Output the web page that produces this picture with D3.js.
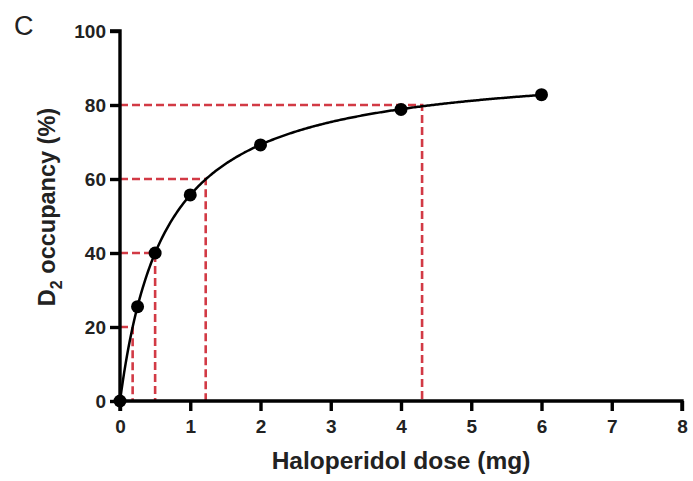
<!DOCTYPE html>
<html><head><meta charset="utf-8">
<script src="https://d3js.org/d3.v7.min.js"></script>
<style>body{margin:0;background:#fff}svg{display:block}</style>
</head><body>
<script>
const doses = [0, 0.25, 0.5, 1, 2, 4, 6];
const occupancy = [0, 25.5, 40, 55.7, 69.2, 78.8, 82.8];
const fitEmax = 91.6, fitED50 = 0.645;
const targetOcc = [20, 40, 60, 80];
const targetDose = [0.18, 0.5, 1.22, 4.3];
const xTicks = [0,1,2,3,4,5,6,7,8];
const yTicks = [0,20,40,60,80,100];

const W = 693, H = 481;
const svg = d3.select("body").append("svg").attr("width", W).attr("height", H);
const x = d3.scaleLinear().domain([0, 8]).range([120, 682]);
const y = d3.scaleLinear().domain([0, 100]).range([401, 31]);

const red = "#d23a45";
const g = svg.append("g");
targetOcc.forEach((o, i) => {
  const d = targetDose[i];
  g.append("path")
    .attr("d", `M${x(0)},${y(o)}H${x(d)}V${y(0)}`)
    .attr("fill", "none").attr("stroke", red).attr("stroke-width", 2.6)
    .attr("stroke-dasharray", "8,4");
});

const curvePts = d3.range(0, 6.0001, 0.02).map(d => [d, fitEmax * d / (d + fitED50)]);
svg.append("path")
  .attr("d", d3.line().x(p => x(p[0])).y(p => y(p[1]))(curvePts))
  .attr("fill", "none").attr("stroke", "#000").attr("stroke-width", 2.5);

const font = "'Liberation Sans', Arial, sans-serif";
const xAxis = svg.append("g").attr("transform", `translate(0,${y(0)})`)
  .call(d3.axisBottom(x).tickValues(xTicks).tickSize(10).tickPadding(9).tickFormat(d3.format("d")));
const yAxis = svg.append("g").attr("transform", `translate(${x(0)},0)`)
  .call(d3.axisLeft(y).tickValues(yTicks).tickSize(10).tickPadding(4).tickFormat(d3.format("d")));
[xAxis, yAxis].forEach(a => {
  a.select(".domain").attr("stroke", "#000").attr("stroke-width", 3.4);
  a.selectAll(".tick line").attr("stroke", "#000").attr("stroke-width", 3.4);
  a.selectAll(".tick text").attr("fill", "#222").style("font-family", font)
    .style("font-size", "19px").style("font-weight", "bold");
});
xAxis.select(".domain").attr("d", `M${x(0)},10V0H${x(8)}V10`);
yAxis.select(".domain").attr("d", `M-10,${y(100)}H0V${y(0)}`);

svg.append("g").selectAll("circle").data(doses).join("circle")
  .attr("cx", (d) => x(d)).attr("cy", (d, i) => y(occupancy[i]))
  .attr("r", 6.5).attr("fill", "#000");

svg.append("text").attr("x", 14).attr("y", 35).text("C")
  .style("font-family", font).style("font-size", "27px").attr("fill", "#222");
svg.append("text").attr("x", 401).attr("y", 469).attr("text-anchor", "middle")
  .text("Haloperidol dose (mg)")
  .style("font-family", font).style("font-size", "24.5px").style("font-weight", "bold").attr("fill", "#222");
const yl = svg.append("text").attr("transform", `translate(55,207) rotate(-90)`)
  .attr("text-anchor", "middle")
  .style("font-family", font).style("font-size", "23.5px").style("font-weight", "bold").attr("fill", "#222");
yl.append("tspan").text("D");
yl.append("tspan").text("2").attr("dy", 7).style("font-size", "16px");
yl.append("tspan").text(" occupancy (%)").attr("dy", -7);
</script>
</body></html>
